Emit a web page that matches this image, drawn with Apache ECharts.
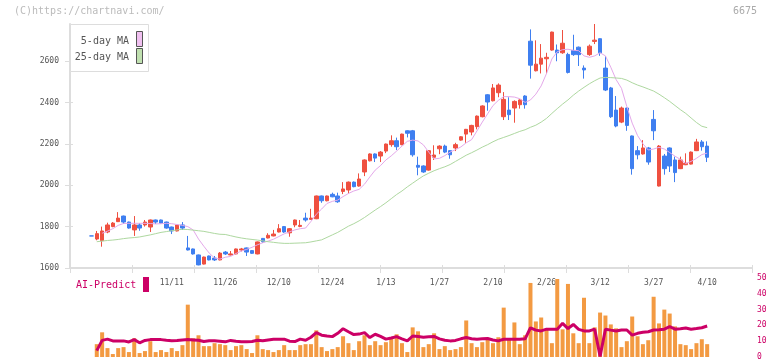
<!DOCTYPE html>
<html><head><meta charset="utf-8">
<script src="https://cdn.jsdelivr.net/npm/echarts@6/dist/echarts.min.js"></script>
<style>html,body{margin:0;padding:0;background:#fff}#c{width:772px;height:361px}</style>
</head><body><div id="c"></div>
<script>
const dates = ["10/20","10/21","10/22","10/23","10/24","10/27","10/28","10/29","10/30","10/31",
"11/4","11/5","11/6","11/7","11/10","11/11","11/12","11/13","11/14","11/17","11/18","11/19","11/20","11/21","11/25","11/26","11/27","11/28",
"12/1","12/2","12/3","12/4","12/5","12/8","12/9","12/10","12/11","12/12","12/15","12/16","12/17","12/18","12/19","12/22","12/23","12/24","12/25","12/26","12/29","12/30",
"1/5","1/6","1/7","1/8","1/9","1/13","1/14","1/15","1/16","1/19","1/20","1/21","1/22","1/23","1/26","1/27","1/28","1/29","1/30",
"2/2","2/3","2/4","2/5","2/6","2/9","2/10","2/12","2/13","2/16","2/17","2/18","2/19","2/20","2/24","2/25","2/26","2/27",
"3/2","3/3","3/4","3/5","3/6","3/9","3/10","3/11","3/12","3/13","3/16","3/17","3/18","3/19","3/23","3/24","3/25","3/26","3/27","3/30","3/31",
"4/1","4/2","4/3","4/6","4/7","4/8","4/9","4/10"];
const xLabels = ["11/11","11/26","12/10","12/24","1/13","1/27","2/10","2/26","3/12","3/27","4/10"];
// [open, close, low, high]
const ohlc = [
[1755,1755,1755,1755],[1740,1766,1734,1779],[1732,1779,1703,1800],[1774,1808,1768,1819],[1800,1817,1797,1822],
[1824,1841,1822,1870],[1851,1822,1813,1853],[1822,1793,1790,1824],[1784,1808,1755,1851],[1808,1793,1780,1816],
[1808,1822,1800,1832],[1798,1832,1774,1834],[1832,1822,1813,1834],[1832,1817,1813,1834],[1822,1793,1790,1824],
[1798,1779,1764,1800],[1779,1808,1777,1810],[1808,1793,1784,1822],[1697,1687,1685,1755],[1692,1668,1665,1694],
[1663,1615,1613,1665],[1619,1653,1617,1655],[1658,1639,1637,1660],[1648,1639,1634,1658],[1639,1672,1637,1677],
[1677,1668,1663,1682],[1663,1668,1661,1682],[1668,1692,1666,1694],[1687,1692,1680,1697],[1697,1677,1658,1699],
[1684,1671,1668,1687],[1668,1726,1666,1728],[1743,1727,1722,1745],[1745,1758,1743,1768],[1755,1764,1753,1784],
[1774,1790,1772,1812],[1800,1774,1770,1803],[1770,1790,1751,1793],[1808,1832,1797,1834],[1801,1806,1797,1832],
[1841,1832,1824,1867],[1835,1841,1833,1886],[1838,1948,1836,1950],[1948,1925,1915,1950],[1925,1948,1922,1950],
[1956,1944,1942,1964],[1948,1920,1915,1964],[1970,1982,1957,2015],[1977,2015,1960,2018],[2015,1993,1990,2018],
[1996,2030,1993,2057],[2064,2122,2044,2125],[2118,2151,2115,2154],[2151,2131,2112,2154],[2141,2160,2112,2165],
[2165,2199,2155,2201],[2196,2215,2186,2241],[2215,2186,2170,2230],[2196,2247,2193,2249],[2263,2251,2231,2265],
[2263,2147,2138,2267],[2096,2087,2048,2138],[2093,2064,2060,2096],[2073,2167,2070,2170],[2135,2146,2122,2193],
[2176,2189,2150,2193],[2189,2160,2155,2196],[2167,2147,2128,2170],[2180,2196,2165,2205],[2218,2234,2215,2237],
[2247,2270,2205,2272],[2257,2289,2241,2292],[2283,2334,2270,2337],[2331,2383,2328,2386],[2437,2402,2360,2440],
[2408,2470,2405,2489],[2447,2484,2425,2492],[2331,2415,2315,2450],[2363,2341,2315,2425],[2373,2405,2302,2410],
[2389,2412,2370,2415],[2431,2389,2370,2435],[2696,2580,2515,2753],[2553,2585,2550,2700],[2585,2614,2540,2682],
[2611,2618,2540,2640],[2653,2740,2650,2742],[2653,2640,2599,2680],[2640,2686,2635,2750],[2632,2545,2540,2640],
[2651,2631,2625,2727],[2667,2631,2576,2670],[2566,2557,2515,2579],[2631,2672,2625,2680],[2695,2701,2682,2779],
[2708,2640,2625,2710],[2566,2460,2455,2624],[2470,2331,2325,2475],[2363,2286,2280,2431],[2305,2373,2300,2380],
[2373,2289,2263,2375],[2238,2080,2051,2240],[2167,2147,2125,2189],[2151,2180,2148,2218],[2180,2112,2099,2185],
[2318,2263,2218,2363],[1996,2189,1994,2194],[2141,2080,2051,2151],[2180,2093,2064,2183],[2122,2061,2015,2138],
[2080,2122,2078,2138],[2099,2106,2097,2154],[2102,2160,2100,2163],[2167,2209,2165,2224],[2209,2186,2167,2218],
[2189,2135,2112,2212]];
const ma5 = [null,null,1768,1778,1790,1806,1815,1816,1816,1816,1816,1815,1813,1814,1816,1814,1810,1806,1800,1784,
1740,1705,1672,1648,1643,1652,1656,1670,1682,1690,1700,1712,1722,1730,1739,1752,1765,1775,1784,1790,
1793,1825,1860,1885,1912,1922,1928,1945,1960,1972,1980,2005,2040,2073,2095,2122,2142,2165,2189,2212,
2218,2214,2195,2160,2127,2130,2143,2160,2172,2185,2205,2220,2262,2305,2345,2385,2410,2428,2428,2426,
2418,2400,2412,2440,2480,2540,2610,2645,2655,2657,2652,2650,2625,2618,2625,2640,2625,2570,2510,2468,
2380,2300,2240,2200,2170,2175,2183,2175,2158,2140,2125,2105,2115,2130,2148,2155];
const ma25 = [null,1727,1730,1733,1735,1738,1742,1745,1747,1750,1755,1760,1766,1772,1776,1780,1784,1787,1786,1783,
1780,1777,1772,1767,1763,1762,1756,1750,1745,1741,1738,1735,1731,1727,1724,1721,1719,1719,1720,1721,
1722,1726,1731,1736,1748,1760,1772,1787,1802,1814,1828,1844,1862,1880,1897,1915,1935,1955,1972,1992,
2010,2028,2045,2058,2070,2080,2089,2100,2115,2130,2145,2157,2170,2184,2196,2210,2222,2231,2240,2250,
2260,2268,2280,2290,2305,2323,2347,2370,2392,2412,2435,2455,2473,2490,2505,2518,2521,2520,2518,2516,
2508,2495,2484,2475,2465,2455,2440,2423,2405,2385,2365,2347,2325,2303,2285,2278];
const volume = [0,13,25,9,3,9,10,5,19,4,6,16,5,7,5,9,6,12,53,19,
22,11,11,14,13,12,7,11,12,8,4,22,8,7,5,7,12,7,7,12,
13,13,27,10,6,8,10,21,14,7,16,22,12,16,12,15,20,23,14,5,
30,26,10,13,24,8,11,7,8,10,37,14,10,15,19,14,20,50,18,35,
13,22,75,36,40,28,14,79,28,74,24,14,60,14,30,45,42,33,29,10,
16,41,21,13,17,61,34,48,44,31,13,12,8,14,18,13];
const aiPredict = [null,4,10.5,11.3,10.2,10.2,10.2,9.5,11,9,10.5,11,11,11,10.6,10.3,10.4,10.8,11,10.8,
10.6,9.8,10.3,10.3,10,9.6,10.5,10,9.6,9.6,9.8,10.6,10.3,10.8,11.3,11.3,11.3,10,9.8,11.3,
10.6,12.5,15.4,13.8,13.3,12.9,15,17.9,16,14.2,14.5,15.4,12.3,14.4,13,11.3,12,12.9,11.5,10.2,
13.3,13,12.5,12.8,13,11.5,10.6,10.2,10.5,11.5,12.3,11.5,11.2,11.5,11.7,10.8,10.2,11.2,11.2,11.2,
11.2,11.5,18.5,17,16.5,17.6,17.6,17.6,21.3,18,20.6,17.5,16.5,16.5,17.6,0.4,17.6,17,16.5,17.1,
17.1,13.8,15,15.6,16,17.1,17.3,17.6,19.2,17.6,17.9,18.3,17.6,18,18.5,19.6];
const priceTicks = [1600,1800,2000,2200,2400,2600];
const aiTicks = [0,10,20,30,40,50];

const LEAD = 4, TAIL = 8;
const cats = [];
for (let i = 0; i < LEAD; i++) cats.push('s' + i);
dates.forEach(d => cats.push(d));
for (let i = 0; i < TAIL; i++) cats.push('e' + i);
const padF = a => Array(LEAD).fill('-').concat(a.map(v => v == null ? '-' : v)).concat(Array(TAIL).fill('-'));

const MONO = '"DejaVu Sans Mono", monospace';
const UP = '#ef5040', DOWN = '#3f7ff0', AXIS = '#dddddd', MAG = '#cc0066';

const chart = echarts.init(document.getElementById('c'), null, {renderer: 'canvas'});
chart.setOption({
  animation: false,
  backgroundColor: '#fff',
  grid: [
    {left: 70, right: 22, top: 24, bottom: 93},
    {left: 70, right: 20, top: 24, bottom: 93},
    {left: 70, right: 22, top: 278, bottom: 3}
  ],
  xAxis: [
    {type: 'category', gridIndex: 0, data: cats, boundaryGap: false,
     axisLine: {show: false}, axisTick: {show: false}, splitLine: {show: false},
     axisLabel: {interval: (i, v) => xLabels.indexOf(v) >= 0, color: '#555', fontFamily: MONO, fontSize: 8, margin: 11}},
    {type: 'value', gridIndex: 1, min: 0, max: 11, interval: 1,
     axisLine: {show: true, lineStyle: {color: AXIS, width: 2}},
     axisTick: {show: true, length: 5, lineStyle: {color: AXIS, width: 1}},
     axisLabel: {show: false}, splitLine: {show: false}},
    {type: 'value', gridIndex: 1, min: 0, max: 11, interval: 1, position: 'bottom',
     axisLine: {show: false},
     axisTick: {show: true, inside: true, length: 3, lineStyle: {color: AXIS, width: 1}},
     axisLabel: {show: false}, splitLine: {show: false}},
    {type: 'category', gridIndex: 2, data: cats, boundaryGap: false, show: false}
  ],
  yAxis: [
    {type: 'value', gridIndex: 0, min: 1600, max: 2779, interval: 200,
     axisLine: {show: true, lineStyle: {color: AXIS, width: 2}},
     axisTick: {show: true, length: 5, customValues: priceTicks, lineStyle: {color: AXIS}},
     axisLabel: {customValues: priceTicks, formatter: v => String(v), color: '#555', fontFamily: MONO, fontSize: 8, margin: 11},
     splitLine: {show: false}},
    {type: 'value', gridIndex: 0, min: 1600, max: 2779, interval: 200, position: 'left',
     axisLine: {show: false},
     axisTick: {show: true, inside: true, length: 3, customValues: priceTicks, lineStyle: {color: AXIS}},
     axisLabel: {show: false}, splitLine: {show: false}},
    {type: 'value', gridIndex: 1, min: 0, max: 1, show: false},
    {type: 'value', gridIndex: 2, min: 0, max: 80, show: false},
    {type: 'value', gridIndex: 2, min: 0, max: 50, interval: 10, position: 'right',
     axisLine: {show: false}, axisTick: {show: false}, splitLine: {show: false},
     axisLabel: {customValues: aiTicks, formatter: v => String(v), color: MAG, fontFamily: MONO, fontSize: 8, margin: 7}}
  ],
  series: [
    {type: 'candlestick', xAxisIndex: 0, yAxisIndex: 0, barWidth: 4, data: padF(ohlc),
     itemStyle: {color: UP, color0: DOWN, borderColor: UP, borderColor0: DOWN, borderWidth: 1}},
    {type: 'line', xAxisIndex: 0, yAxisIndex: 0, data: padF(ma5), symbol: 'none',
     lineStyle: {color: '#e4a8ea', width: 1}, z: 3},
    {type: 'line', xAxisIndex: 0, yAxisIndex: 0, data: padF(ma25), symbol: 'none',
     lineStyle: {color: '#aed8a0', width: 1}, z: 3},
    {type: 'scatter', xAxisIndex: 1, yAxisIndex: 2, data: []},
    {type: 'bar', xAxisIndex: 3, yAxisIndex: 3, data: padF(volume), barWidth: 4,
     itemStyle: {color: '#f39a42'}},
    {type: 'line', xAxisIndex: 3, yAxisIndex: 4, data: padF(aiPredict), symbol: 'none',
     lineStyle: {color: MAG, width: 3}, z: 4}
  ],
  graphic: [
    {type: 'text', left: 14, top: 6, style: {text: '(C)https://chartnavi.com/', fill: '#bbbbbb', font: '10px ' + MONO}},
    {type: 'text', right: 15, top: 6, style: {text: '6675', fill: '#aaaaaa', font: '10px ' + MONO}},
    {type: 'rect', shape: {x: 70.5, y: 24.5, width: 78, height: 47}, style: {fill: '#fff', stroke: '#dddddd', lineWidth: 1}, z: 10},
    {type: 'text', x: 129, y: 41, style: {text: '5-day MA', fill: '#555', font: '10px ' + MONO, align: 'right', verticalAlign: 'middle'}, z: 11},
    {type: 'rect', shape: {x: 136.5, y: 31.5, width: 6, height: 15}, style: {fill: '#f0c0f0', stroke: '#555', lineWidth: 1}, z: 11},
    {type: 'text', x: 129, y: 57, style: {text: '25-day MA', fill: '#555', font: '10px ' + MONO, align: 'right', verticalAlign: 'middle'}, z: 11},
    {type: 'rect', shape: {x: 136.5, y: 48.5, width: 6, height: 15}, style: {fill: '#c0e0b0', stroke: '#555', lineWidth: 1}, z: 11},
    {type: 'text', x: 76, y: 285, style: {text: 'AI-Predict', fill: MAG, font: '10px ' + MONO, verticalAlign: 'middle'}, z: 11},
    {type: 'rect', shape: {x: 143, y: 277, width: 6, height: 15}, style: {fill: MAG}, z: 11}
  ]
});
</script></body></html>
